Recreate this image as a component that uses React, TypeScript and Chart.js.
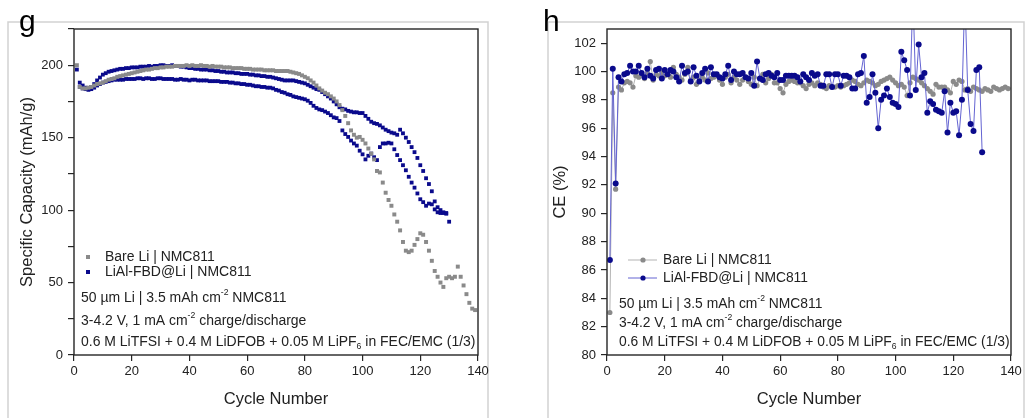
import React, { useEffect, useRef } from "react";
import { Chart, registerables } from "chart.js";
Chart.register(...registerables);

const FONT = '"Liberation Sans", Arial, Helvetica, sans-serif';
const GRAY = "#8a8a8a";
const NAVY = "#0a0a8c";
const TXT = "#222222";

// ---------- Panel g: specific capacity ----------
const capTicksX = [0, 20, 40, 60, 80, 100, 120, 140];
const capTicksY = [0, 25, 50, 75, 100, 125, 150, 175, 200, 225];
const capLabelsY = [0, 50, 100, 150, 200];

const bareCapStart = 1;
const bareCap = [
  200, 185, 184, 184, 184.5, 185, 186, 187, 187.5, 188,
  189, 190, 190.5, 191, 192, 192.5, 193, 193.5, 194, 194.5,
  195, 195.5, 196, 196.5, 197, 197, 197.5, 198, 198, 198.5,
  198.5, 199, 199, 199, 199.5, 199.5, 199.5, 199.5, 200, 199.5,
  200, 199.5, 199.5, 200, 199.5, 199.5, 199, 199.5, 199, 199,
  199, 198.5, 198.5, 198.5, 198, 198, 198, 198, 197.5, 197.5,
  197.5, 197, 197, 197, 197, 196.5, 196.5, 196.5, 196.5, 196,
  196, 196, 196, 196, 195.5, 195, 194.5, 194, 193, 192,
  191, 189.5, 188, 186, 184, 182.5, 181, 180, 178.5, 177,
  175, 172.5, 169, 165, 160, 155, 152, 150, 150.5, 148.5,
  146, 142.5, 139, 135, 127, 126, 119, 112, 107, 103,
  97, 92, 86, 78, 72, 71, 72, 76, 80, 84,
  83, 78, 72, 65, 58, 54, 50, 47, 53, 54,
  53, 54, 61, 54, 48, 42, 36, 32, 31,
];

const lialCapUpperStart = 1;
const lialCapUpper = [
  197, 188, 186, 184.5, 184, 185, 187, 189.5, 191.5, 193.5,
  194.5, 195.5, 196, 196.5, 197, 197.5, 197.5, 198, 198, 198.5,
  198.5, 198.5, 199, 199, 199, 199.5, 199, 199.5, 199.5, 200,
  200, 199.5, 199.5, 200, 199.5, 199.5, 199, 199, 198.5, 198,
  198, 197.5, 197.5, 197, 197, 197, 196.5, 196.5, 196, 196,
  195.5, 195.5, 195, 195, 195, 194.5, 194.5, 194, 194, 194,
  193.5, 193.5, 193, 193, 192.5, 192.5, 192, 192, 191.5, 191,
  190.5, 190, 189.5, 189.5, 189.5, 189.5, 189, 188.5, 188, 187.5,
  186.5, 185.5, 184.5, 183.5, 183, 181.5, 180, 178.5, 177, 175,
  173, 171, 170, 169.5, 168.5, 168, 167.5, 167.5, 167, 167,
  165, 163, 161, 160, 159.5, 158.5, 157, 155.5, 154.5, 153.5,
  153, 152, 155.5, 153, 150, 147, 143.5, 140, 136, 131,
  127, 122, 118, 113, 106, 102, 100, 98.5, 98,
];

const lialCapLowerStart = 2;
const lialCapLower = [
  185, 184, 183.5, 183, 183.5, 184.5, 186, 187, 188,
  188.5, 189, 189.5, 190, 190, 190, 190, 190.5, 190.5, 190.5,
  190.5, 191, 191, 190.5, 191, 191, 190.5, 190.5, 191, 191,
  190.5, 190.5, 190.5, 190.5, 190, 190, 190.5, 190, 190, 189.5,
  190, 190, 189.5, 189.5, 189.5, 189.5, 189, 189, 189, 189,
  188.5, 188.5, 188.5, 188, 188, 187.5, 187.5, 187, 187, 186.5,
  186.5, 186, 185.5, 185.5, 185, 185, 184.5, 184.5, 184, 183,
  182.5, 181.5, 181, 180, 179.5, 178.5, 178, 177.5, 177, 176.5,
  175.5, 174, 172, 170.5, 169.5, 169, 168, 167, 165.5, 164,
  163.5, 161.5, 155, 152.5, 150.5, 148, 146, 144.5, 141, 138.5,
  135, 137.5, 139, 136.5, 134.5, 143.5, 146, 146, 146.5, 146,
  142, 138, 134.5, 131, 127.5, 123, 119, 115.5, 111.5, 107.5,
  105.5, 103, 104.5, 104, 100.5, 98.5, 98, 98, 97.5, 92,
];

// ---------- Panel h: coulombic efficiency ----------
const ceTicksX = [0, 20, 40, 60, 80, 100, 120, 140];
const ceTicksY = [80, 82, 84, 86, 88, 90, 92, 94, 96, 98, 100, 102];

const bareCeStart = 1;
const bareCe = [
  83.0, 98.5, 91.7, 98.9, 98.7, 99.2, 99.3, 99.2, 98.9, 99.7,
  99.6, 99.8, 99.5, 99.9, 100.7, 99.4, 99.8, 99.7, 99.9, 99.7,
  99.8, 99.6, 100.3, 99.8, 99.6, 99.4, 99.8, 100.3, 99.4, 99.6,
  99.1, 99.4, 99.6, 99.4, 99.9, 99.5, 99.6, 99.7, 99.4, 99.1,
  99.6, 99.8, 99.2, 99.6, 99.4, 99.1, 99.4, 99.6, 99.3, 99.1,
  99.6, 99.0, 99.5, 99.8, 99.2, 99.5, 99.8, 99.2, 99.2, 98.8,
  98.5, 99.1, 99.3, 99.4, 99.3, 99.2, 99.2, 99.0, 98.8, 99.1,
  99.2, 99.0, 99.2, 99.1, 98.9, 98.8, 99.0, 98.9, 98.9, 99.0,
  98.9, 99.0, 99.1, 99.2, 99.4, 99.3, 99.1, 99.0, 99.2, 99.4,
  99.3, 99.2, 99.0, 99.1, 99.3, 99.4, 99.5, 99.6, 99.4, 99.2,
  99.0, 99.1, 98.9, 98.3, 99.2, 99.6, 99.5, 99.4, 99.2, 99.0,
  98.8, 98.6, 98.4, 99.1, 98.9, 98.9, 98.9, 98.7, 98.5, 99.3,
  99.1, 99.4, 99.3, 98.7, 98.8, 98.6, 98.9, 98.8, 98.7, 98.6,
  98.8, 98.7, 98.6, 98.9, 98.8, 98.7, 98.8, 98.9, 98.8,
];

const lialCeStart = 1;
const lialCe = [
  86.7, 100.2, 92.1, 99.6, 99.3, 99.8, 99.9, 100.4, 100.0, 100.0,
  100.4, 99.9, 99.6, 100.2, 99.7, 99.5, 100.1, 100.2, 99.5, 100.1,
  99.8, 100.1, 100.0, 99.6, 99.3, 100.4, 99.9, 100.0, 99.3, 100.3,
  99.7, 99.3, 99.9, 100.2, 99.3, 100.3, 99.8, 99.8, 99.6, 99.5,
  99.8, 100.4, 99.4, 100.0, 99.8, 99.8, 99.9, 99.6, 99.5, 99.9,
  99.0, 100.7, 99.5, 99.4, 99.8, 99.9, 99.7, 99.6, 99.9, 99.4,
  99.4, 99.7, 99.7, 99.7, 99.7, 99.6, 99.3, 99.8, 99.6, 99.4,
  99.9, 99.7, 99.8, 99.0, 99.0, 99.8, 99.8, 98.9, 99.8, 99.8,
  99.0, 99.7, 99.7, 99.6, 98.8, 98.8, 99.8, 99.9, 101.1, 97.8,
  98.2, 99.8, 98.5, 96.0, 98.0, 98.3, 98.8, 98.2, 97.8, 97.7,
  97.5, 101.4, 100.8, 100.1, 98.3, 105.5, 98.7, 101.9, 99.6, 99.9,
  97.1, 97.9, 97.7, 97.3, 97.2, 97.1, 98.6, 95.7, 97.8, 97.1,
  97.2, 95.5, 98.0, 105.5, 98.7, 96.3, 95.8, 100.1, 100.3, 94.3,
];

const legendLabels = ["Bare Li | NMC811", "LiAl-FBD@Li | NMC811"];

type Part = { t: string; k: "n" | "sup" | "sub" };
const noteLines: Part[][] = [
  [{ t: "50 \u00b5m Li | 3.5 mAh cm", k: "n" }, { t: "-2", k: "sup" }, { t: " NMC811", k: "n" }],
  [{ t: "3-4.2 V, 1 mA cm", k: "n" }, { t: "-2", k: "sup" }, { t: " charge/discharge", k: "n" }],
  [
    { t: "0.6 M LiTFSI + 0.4 M LiDFOB + 0.05 M LiPF", k: "n" },
    { t: "6", k: "sub" },
    { t: " in FEC/EMC (1/3)", k: "n" },
  ],
];

function toXY(vals: number[], start: number) {
  return vals.map((v, i) => ({ x: start + i, y: v }));
}

function richWidth(ctx: CanvasRenderingContext2D, parts: Part[], size: number) {
  let w = 0;
  for (const p of parts) {
    const s = p.k === "n" ? size : size * 0.62;
    ctx.font = `${s}px ${FONT}`;
    w += ctx.measureText(p.t).width;
  }
  return w;
}

function drawRich(ctx: CanvasRenderingContext2D, parts: Part[], x: number, y: number, size: number) {
  let cx = x;
  for (const p of parts) {
    const s = p.k === "n" ? size : size * 0.62;
    ctx.font = `${s}px ${FONT}`;
    const dy = p.k === "sup" ? -size * 0.36 : p.k === "sub" ? size * 0.3 : 0;
    ctx.fillText(p.t, cx, y + dy);
    cx += ctx.measureText(p.t).width;
  }
}

type PanelOpts = {
  letter: string;
  letterX: number;
  frame: [number, number];
  noteX: number;
  noteYs: number[];
  noteWidth: number;
  legendYs: number[];
  legendMarkX: number;
  legendTextX: number;
  lineLegend: boolean;
};

function panelPlugin(o: PanelOpts) {
  return {
    id: "panel_" + o.letter,
    beforeDraw(chart: any) {
      const ctx = chart.ctx as CanvasRenderingContext2D;
      ctx.save();
      ctx.strokeStyle = "#d2d2d2";
      ctx.lineWidth = 1.5;
      ctx.beginPath();
      ctx.moveTo(o.frame[0], 430);
      ctx.lineTo(o.frame[0], 22);
      ctx.lineTo(o.frame[1], 22);
      ctx.lineTo(o.frame[1], 430);
      ctx.stroke();
      ctx.restore();
    },
    afterDraw(chart: any) {
      const ctx = chart.ctx as CanvasRenderingContext2D;
      const a = chart.chartArea;
      ctx.save();
      ctx.strokeStyle = "#262626";
      ctx.lineWidth = 1.4;
      ctx.strokeRect(a.left, a.top, a.right - a.left, a.bottom - a.top);

      ctx.fillStyle = "#000";
      ctx.textBaseline = "alphabetic";
      ctx.textAlign = "left";
      ctx.font = `30px ${FONT}`;
      ctx.fillText(o.letter, o.letterX, 31);

      let size = 13;
      const w = richWidth(ctx, noteLines[2], 13);
      if (w > 0) size = (13 * o.noteWidth) / w;

      ctx.fillStyle = TXT;
      ctx.textBaseline = "middle";
      const colors = [GRAY, NAVY];
      const lineColors = ["#b3b3b3", "#6464d2"];
      legendLabels.forEach((lab, i) => {
        const y = o.legendYs[i];
        if (o.lineLegend) {
          ctx.strokeStyle = lineColors[i];
          ctx.lineWidth = 1;
          ctx.beginPath();
          ctx.moveTo(o.legendMarkX - 15, y);
          ctx.lineTo(o.legendMarkX + 14, y);
          ctx.stroke();
          ctx.fillStyle = colors[i];
          ctx.beginPath();
          ctx.arc(o.legendMarkX, y, 2.6, 0, Math.PI * 2);
          ctx.fill();
        } else {
          ctx.fillStyle = colors[i];
          ctx.fillRect(o.legendMarkX - 2, y - 2, 4, 4);
        }
        ctx.fillStyle = TXT;
        ctx.font = `${size}px ${FONT}`;
        ctx.fillText(lab, o.legendTextX, y);
      });
      noteLines.forEach((parts, i) => drawRich(ctx, parts, o.noteX, o.noteYs[i], size));
      ctx.restore();
    },
  };
}

function axisCommon(ticksArr: number[], min: number, max: number, title: string, isY: boolean, labels?: number[]) {
  return {
    type: "linear",
    min,
    max,
    afterBuildTicks: (s: any) => {
      s.ticks = ticksArr.map((v) => ({ value: v }));
    },
    afterFit: (s: any) => {
      if (isY) s.width = 74;
      else s.height = 63;
    },
    ticks: {
      autoSkip: false,
      maxRotation: 0,
      color: TXT,
      padding: isY ? 5 : 3,
      font: { family: FONT, size: 13 },
      callback: (v: number) => (labels ? (labels.includes(v) ? String(v) : "") : String(v)),
    },
    grid: { drawOnChartArea: false, drawTicks: true, tickLength: 6, color: "#262626", lineWidth: 1.2 },
    border: { display: false },
    title: {
      display: true,
      text: title,
      color: TXT,
      font: { family: FONT, size: 16.5 },
      padding: isY ? { top: 18, bottom: 0 } : { top: 0, bottom: 9 },
    },
  };
}

function CapacityChart() {
  const ref = useRef<HTMLCanvasElement>(null);
  useEffect(() => {
    if (!ref.current) return;
    const chart = new Chart(ref.current, {
      type: "scatter",
      data: {
        datasets: [
          {
            label: legendLabels[0],
            data: toXY(bareCap, bareCapStart),
            pointStyle: "rect",
            pointRadius: 2.8,
            pointBackgroundColor: GRAY,
            pointBorderWidth: 0,
            showLine: false,
          },
          {
            label: legendLabels[1],
            data: toXY(lialCapUpper, lialCapUpperStart),
            pointStyle: "rect",
            pointRadius: 2.7,
            pointBackgroundColor: NAVY,
            pointBorderWidth: 0,
            showLine: false,
          },
          {
            label: legendLabels[1] + " (cell 2)",
            data: toXY(lialCapLower, lialCapLowerStart),
            pointStyle: "rect",
            pointRadius: 2.7,
            pointBackgroundColor: NAVY,
            pointBorderWidth: 0,
            showLine: false,
          },
        ],
      } as any,
      options: {
        responsive: false,
        animation: false,
        events: [],
        layout: { padding: { left: 0, top: 29, right: 35, bottom: 0 } },
        plugins: { legend: { display: false }, tooltip: { enabled: false } },
        scales: {
          x: axisCommon(capTicksX, 0, 140, "Cycle Number", false),
          y: axisCommon(capTicksY, 0, 225, "Specific Capacity (mAh/g)", true, capLabelsY),
        } as any,
      },
      plugins: [
        panelPlugin({
          letter: "g",
          letterX: 19,
          frame: [8, 488],
          noteX: 81,
          noteYs: [298, 321, 342],
          noteWidth: 395,
          legendYs: [257, 272],
          legendMarkX: 88,
          legendTextX: 105,
          lineLegend: false,
        }),
      ],
    });
    return () => chart.destroy();
  }, []);
  return <canvas ref={ref} width={513} height={418} style={{ display: "block" }} />;
}

function CEChart() {
  const ref = useRef<HTMLCanvasElement>(null);
  useEffect(() => {
    if (!ref.current) return;
    const chart = new Chart(ref.current, {
      type: "scatter",
      data: {
        datasets: [
          {
            label: legendLabels[1],
            data: toXY(lialCe, lialCeStart),
            showLine: true,
            borderColor: "#6464d2",
            borderWidth: 1,
            pointRadius: 3,
            pointBackgroundColor: NAVY,
            pointBorderWidth: 0,
          },
          {
            label: legendLabels[0],
            data: toXY(bareCe, bareCeStart),
            showLine: true,
            borderColor: "#b3b3b3",
            borderWidth: 1,
            pointRadius: 2.6,
            pointBackgroundColor: GRAY,
            pointBorderWidth: 0,
          },
        ],
      } as any,
      options: {
        responsive: false,
        animation: false,
        events: [],
        layout: { padding: { left: 20, top: 29, right: 15, bottom: 0 } },
        plugins: { legend: { display: false }, tooltip: { enabled: false } },
        scales: {
          x: axisCommon(ceTicksX, 0, 140, "Cycle Number", false),
          y: axisCommon(ceTicksY, 80, 103, "CE (%)", true),
        } as any,
      },
      plugins: [
        panelPlugin({
          letter: "h",
          letterX: 30,
          frame: [35, 511],
          noteX: 106,
          noteYs: [304, 323, 342],
          noteWidth: 391,
          legendYs: [260, 278],
          legendMarkX: 130,
          legendTextX: 150,
          lineLegend: true,
        }),
      ],
    });
    return () => chart.destroy();
  }, []);
  return <canvas ref={ref} width={513} height={418} style={{ display: "block" }} />;
}

export default function App() {
  return (
    <div
      style={{
        position: "absolute",
        left: 0,
        top: 0,
        width: 1026,
        height: 418,
        background: "#fff",
        display: "flex",
        overflow: "hidden",
      }}
    >
      <CapacityChart />
      <CEChart />
    </div>
  );
}
